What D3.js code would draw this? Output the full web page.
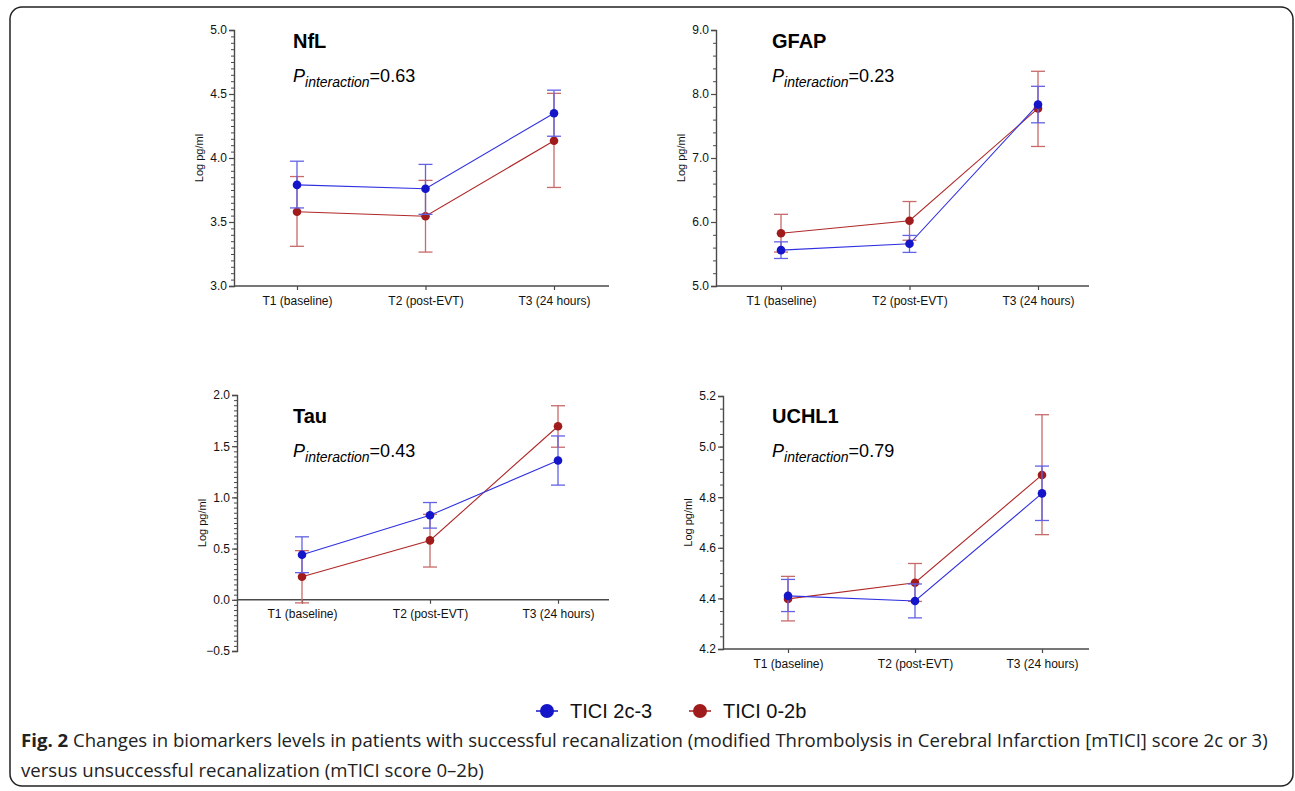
<!DOCTYPE html>
<html>
<head>
<meta charset="utf-8">
<script src="https://cdnjs.cloudflare.com/ajax/libs/d3/7.8.5/d3.min.js"></script>
<style>
  html, body { margin: 0; padding: 0; background: #fff; }
  svg { display: block; }
</style>
</head>
<body>
<div id="chart"></div>
<script>
// ---- data ----
const timepoints = ['T1 (baseline)', 'T2 (post-EVT)', 'T3 (24 hours)'];
const seriesNames = ['TICI 2c-3', 'TICI 0-2b'];

const nflSuccess = [3.79, 3.76, 4.35];
const nflSuccessLow = [3.61, 3.56, 4.17];
const nflSuccessHigh = [3.975, 3.95, 4.53];
const nflFail = [3.58, 3.545, 4.135];
const nflFailLow = [3.31, 3.265, 3.77];
const nflFailHigh = [3.855, 3.825, 4.505];

const gfapSuccess = [5.56, 5.66, 7.835];
const gfapSuccessLow = [5.43, 5.525, 7.55];
const gfapSuccessHigh = [5.69, 5.79, 8.12];
const gfapFail = [5.825, 6.02, 7.775];
const gfapFailLow = [5.53, 5.715, 7.18];
const gfapFailHigh = [6.12, 6.32, 8.355];

const tauSuccess = [0.44, 0.825, 1.36];
const tauSuccessLow = [0.265, 0.70, 1.12];
const tauSuccessHigh = [0.615, 0.95, 1.60];
const tauFail = [0.225, 0.58, 1.695];
const tauFailLow = [-0.03, 0.32, 1.49];
const tauFailHigh = [0.48, 0.835, 1.895];

const uchSuccess = [4.41, 4.39, 4.815];
const uchSuccessLow = [4.348, 4.323, 4.708];
const uchSuccessHigh = [4.475, 4.457, 4.923];
const uchFail = [4.398, 4.462, 4.888];
const uchFailLow = [4.311, 4.388, 4.652];
const uchFailHigh = [4.487, 4.538, 5.126];

const nflTicks = [3.0, 3.5, 4.0, 4.5, 5.0];
const gfapTicks = [5.0, 6.0, 7.0, 8.0, 9.0];
const tauTicks = [-0.5, 0.0, 0.5, 1.0, 1.5, 2.0];
const uchTicks = [4.2, 4.4, 4.6, 4.8, 5.0, 5.2];

const panels = [
  { name: 'NfL', p: '0.63', ticks: nflTicks, minor: 0.05,
    success: [nflSuccess, nflSuccessLow, nflSuccessHigh], fail: [nflFail, nflFailLow, nflFailHigh],
    left: 234, top: 30, bottom: 286, right: 609, catStart: 297, catEnd: 554, titleX: 293, titleY: 48 },
  { name: 'GFAP', p: '0.23', ticks: gfapTicks, minor: 0.2,
    success: [gfapSuccess, gfapSuccessLow, gfapSuccessHigh], fail: [gfapFail, gfapFailLow, gfapFailHigh],
    left: 716, top: 30, bottom: 286, right: 1089, catStart: 781, catEnd: 1038, titleX: 772, titleY: 48 },
  { name: 'Tau', p: '0.43', ticks: tauTicks, minor: 0.05,
    success: [tauSuccess, tauSuccessLow, tauSuccessHigh], fail: [tauFail, tauFailLow, tauFailHigh],
    left: 237, top: 395, bottom: 651, right: 609, catStart: 302, catEnd: 558, titleX: 293, titleY: 423 },
  { name: 'UCHL1', p: '0.79', ticks: uchTicks, minor: 0.05,
    success: [uchSuccess, uchSuccessLow, uchSuccessHigh], fail: [uchFail, uchFailLow, uchFailHigh],
    left: 723, top: 396, bottom: 649, right: 1089, catStart: 788, catEnd: 1042, titleX: 772, titleY: 423 }
];

const COLORS = {
  success: { dot: '#1414c8', line: '#3030e0', err: '#6262e6' },
  fail: { dot: '#a01c1c', line: '#b02828', err: '#c86a6a' }
};
const AXIS_COLOR = '#4a4a4a';
const FONT = "'Liberation Sans', Arial, Helvetica, sans-serif";

const W = 1295, H = 791;
const svg = d3.select('#chart').append('svg')
  .attr('width', W)
  .attr('height', H);

svg.append('rect')
  .attr('x', 10).attr('y', 7)
  .attr('width', 1283).attr('height', 779)
  .attr('rx', 12)
  .attr('fill', 'none')
  .attr('stroke', '#222')
  .attr('stroke-width', 1.5);

panels.forEach(drawPanel);

function drawPanel (cfg) {
  const g = svg.append('g');
  const lo = d3.min(cfg.ticks), hi = d3.max(cfg.ticks);
  const y = d3.scaleLinear().domain([lo, hi]).range([cfg.bottom, cfg.top]);
  const x = d3.scalePoint().domain(timepoints).range([cfg.catStart, cfg.catEnd]);
  const baseY = y(lo < 0 ? 0 : lo);

  // minor ticks
  const nMinor = Math.round((hi - lo) / cfg.minor);
  const minorVals = d3.range(nMinor + 1).map(i => lo + i * cfg.minor);
  g.append('g')
    .attr('transform', 'translate(' + cfg.left + ',0)')
    .call(d3.axisLeft(y).tickValues(minorVals).tickSize(3).tickFormat(''))
    .call(a => a.select('.domain').remove())
    .selectAll('line').attr('stroke', AXIS_COLOR).attr('stroke-width', 1);

  const yAxis = g.append('g')
    .attr('transform', 'translate(' + cfg.left + ',0)')
    .call(d3.axisLeft(y).tickValues(cfg.ticks).tickSize(5).tickPadding(2).tickFormat(d3.format('.1f')));
  yAxis.select('.domain').attr('stroke', AXIS_COLOR).attr('stroke-width', 1.4);
  yAxis.selectAll('line').attr('stroke', AXIS_COLOR).attr('stroke-width', 1.2);
  yAxis.selectAll('text').attr('fill', '#111').attr('font-family', FONT).attr('font-size', 12);

  const xAxis = g.append('g')
    .attr('transform', 'translate(0,' + baseY + ')')
    .call(d3.axisBottom(x).tickSize(4).tickPadding(6));
  xAxis.select('.domain')
    .attr('d', 'M' + cfg.left + ',0H' + cfg.right)
    .attr('stroke', AXIS_COLOR).attr('stroke-width', 1.4);
  xAxis.selectAll('line').attr('stroke', AXIS_COLOR).attr('stroke-width', 1.2);
  xAxis.selectAll('text').attr('fill', '#111').attr('font-family', FONT).attr('font-size', 12);

  g.append('text')
    .attr('transform', 'translate(' + (cfg.left - 31) + ',' + ((cfg.top + cfg.bottom) / 2) + ') rotate(-90)')
    .attr('text-anchor', 'middle')
    .attr('fill', '#111')
    .attr('font-family', FONT).attr('font-size', 11)
    .text('Log pg/ml');

  g.append('text')
    .attr('x', cfg.titleX).attr('y', cfg.titleY)
    .attr('fill', '#000')
    .attr('font-family', FONT).attr('font-size', 20).attr('font-weight', 'bold')
    .text(cfg.name);

  const pt = g.append('text')
    .attr('x', cfg.titleX).attr('y', cfg.titleY + 34)
    .attr('fill', '#000')
    .attr('font-family', FONT).attr('font-size', 18);
  pt.append('tspan').attr('font-style', 'italic').text('P');
  pt.append('tspan').attr('dy', 5).attr('font-style', 'italic').attr('font-size', 14).text('interaction');
  pt.append('tspan').attr('dy', -5).text('=' + cfg.p);

  drawSeries(g, x, y, cfg.fail, COLORS.fail);
  drawSeries(g, x, y, cfg.success, COLORS.success);
}

function drawSeries (g, x, y, s, col) {
  const means = s[0], lows = s[1], highs = s[2];
  const pts = timepoints.map((t, i) => ({ t: t, m: means[i], lo: lows[i], hi: highs[i] }));

  const eb = g.append('g').attr('stroke', col.err).attr('stroke-width', 1.3).attr('fill', 'none');
  pts.forEach(d => {
    const cx = x(d.t);
    eb.append('line').attr('x1', cx).attr('x2', cx).attr('y1', y(d.lo)).attr('y2', y(d.hi));
    eb.append('line').attr('x1', cx - 7).attr('x2', cx + 7).attr('y1', y(d.lo)).attr('y2', y(d.lo));
    eb.append('line').attr('x1', cx - 7).attr('x2', cx + 7).attr('y1', y(d.hi)).attr('y2', y(d.hi));
  });

  g.append('path')
    .datum(pts)
    .attr('fill', 'none')
    .attr('stroke', col.line)
    .attr('stroke-width', 1.1)
    .attr('d', d3.line().x(d => x(d.t)).y(d => y(d.m)));

  g.selectAll(null).data(pts).enter().append('circle')
    .attr('cx', d => x(d.t))
    .attr('cy', d => y(d.m))
    .attr('r', 4.3)
    .attr('fill', col.dot);
}

// legend
const legend = svg.append('g');
[{ name: seriesNames[0], col: COLORS.success, x: 547 }, { name: seriesNames[1], col: COLORS.fail, x: 700 }]
  .forEach(l => {
    legend.append('line')
      .attr('x1', l.x - 11).attr('x2', l.x + 11).attr('y1', 711).attr('y2', 711)
      .attr('stroke', l.col.dot).attr('stroke-width', 1.5);
    legend.append('circle').attr('cx', l.x).attr('cy', 711).attr('r', 7).attr('fill', l.col.dot);
    legend.append('text')
      .attr('x', l.x + 23).attr('y', 718)
      .attr('fill', '#111')
      .attr('font-family', FONT).attr('font-size', 20)
      .text(l.name);
  });

// caption
const CAP_FONT = "'Open Sans', 'Noto Sans', sans-serif";
const cap1 = svg.append('text').attr('x', 21).attr('y', 747).attr('fill', '#222')
  .attr('font-family', CAP_FONT).attr('font-size', 18.6);
cap1.append('tspan').attr('font-weight', 'bold').text('Fig. 2');
cap1.append('tspan').text(' Changes in biomarkers levels in patients with successful recanalization (modified Thrombolysis in Cerebral Infarction [mTICI] score 2c or 3)');
svg.append('text').attr('x', 21).attr('y', 777).attr('fill', '#222')
  .attr('font-family', CAP_FONT).attr('font-size', 18.6)
  .text('versus unsuccessful recanalization (mTICI score 0\u20132b)');
</script>
</body>
</html>
